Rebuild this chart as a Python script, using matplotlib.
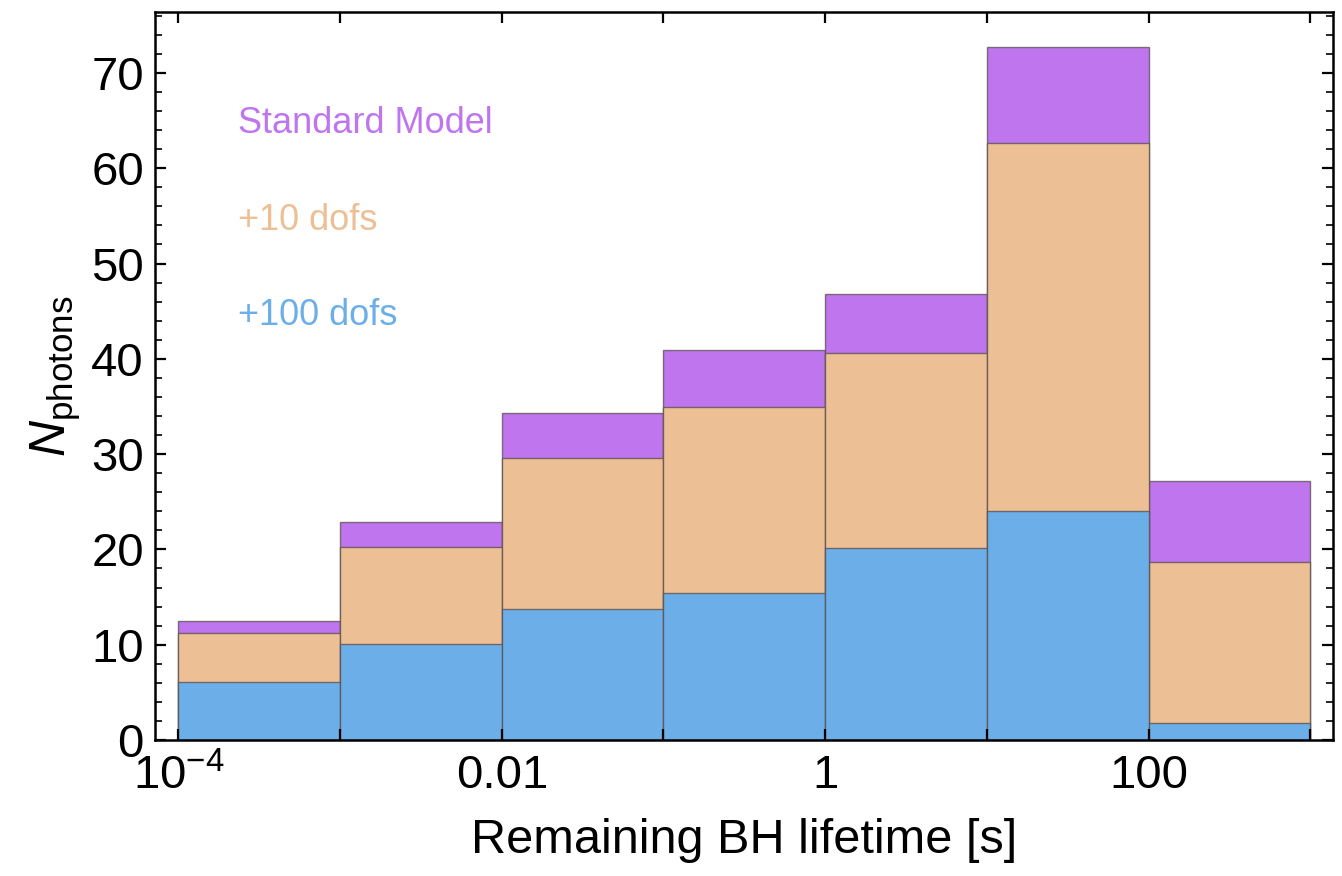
import matplotlib
matplotlib.use("Agg")
import matplotlib.pyplot as plt
from matplotlib.ticker import MultipleLocator, FixedLocator, FixedFormatter

plt.rcParams['font.family'] = ['Liberation Sans', 'DejaVu Sans']
plt.rcParams['mathtext.fontset'] = 'custom'
plt.rcParams['mathtext.rm'] = 'Liberation Sans'
plt.rcParams['mathtext.it'] = 'Liberation Sans:italic'
plt.rcParams['mathtext.bf'] = 'Liberation Sans:bold'

# Bin edges in remaining black-hole lifetime [s] (one decade per bin)
bin_edges = [1e-4, 1e-3, 1e-2, 1e-1, 1e0, 1e1, 1e2, 1e3]

# Photon counts per bin for each scenario
n_standard_model = [12.5, 22.9, 34.3, 40.9, 46.8, 72.7, 27.2]
n_plus_10_dofs = [11.2, 20.2, 29.6, 34.9, 40.6, 62.6, 18.7]
n_plus_100_dofs = [6.1, 10.1, 13.7, 15.4, 20.1, 24.0, 1.8]

series_labels = ["Standard Model", "+10 dofs", "+100 dofs"]
series_colors = ["#BF75EE", "#ECBF95", "#6CAFE8"]

x_tick_values = [1e-4, 1e-3, 1e-2, 1e-1, 1e0, 1e1, 1e2, 1e3]
x_tick_labels = [r"$10^{-4}$", "", "0.01", "", "1", "", "100", ""]

fig = plt.figure(figsize=(13.42, 8.76), dpi=100)
ax = fig.add_axes([0.1155, 0.1553, 0.8778, 0.8310])

lefts = bin_edges[:-1]
widths = [b - a for a, b in zip(bin_edges[:-1], bin_edges[1:])]

# Overlaid histograms: largest first so the smaller ones sit on top
for values, color in zip([n_standard_model, n_plus_10_dofs, n_plus_100_dofs], series_colors):
    ax.bar(lefts, values, width=widths, align='edge', color=color,
           edgecolor=(0.35, 0.3, 0.3, 0.75), linewidth=1.0)

ax.set_xscale('log')
ax.set_xlim(10 ** -4.145, 10 ** 3.141)
ax.set_ylim(0, 76.4)

ax.xaxis.set_major_locator(FixedLocator(x_tick_values))
ax.xaxis.set_major_formatter(FixedFormatter(x_tick_labels))
ax.xaxis.set_minor_locator(FixedLocator([]))
ax.yaxis.set_major_locator(MultipleLocator(10))
ax.yaxis.set_minor_locator(MultipleLocator(2))

ax.tick_params(axis='both', which='both', direction='in', top=True, right=True,
               color='black')
ax.tick_params(axis='both', which='major', length=8, width=1.6, labelsize=34)
ax.tick_params(axis='both', which='minor', length=5, width=1.2)
ax.tick_params(axis='x', which='major', pad=10)
ax.tick_params(axis='y', which='major', pad=8)

for spine in ax.spines.values():
    spine.set_linewidth(1.8)

ax.set_xlabel("Remaining BH lifetime [s]", fontsize=35, labelpad=14)
ax.set_ylabel(r"$N_{\mathrm{photons}}$", fontsize=36, labelpad=6)

# Series labels inside the plot area
label_y = [0.834, 0.7005, 0.570]
for text, color, yy in zip(series_labels, series_colors, label_y):
    ax.text(0.0705, yy, text, transform=ax.transAxes, color=color,
            fontsize=26, ha='left', va='baseline')

fig.savefig("out.png", dpi=100)
